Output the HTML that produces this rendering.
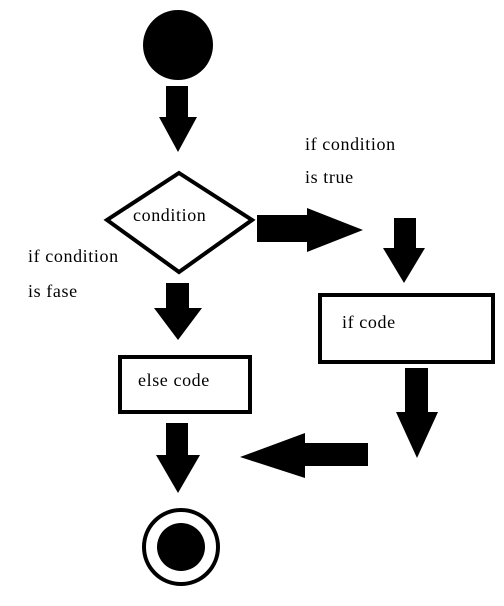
<!DOCTYPE html>
<html><head><style>html,body{margin:0;padding:0;background:#fff}svg{display:block}text{font-family:"Liberation Serif",serif;font-size:18px;letter-spacing:0.6px;fill:#000}</style></head>
<body>
<svg width="504" height="606" viewBox="0 0 504 606" xmlns="http://www.w3.org/2000/svg">
<circle cx="178" cy="45" r="35" fill="#000"/>
<polygon points="166,86 188,86 188,117 197,117 178,152 159,117 166,117" fill="#000"/>
<polygon points="179,173 252,220 179,272 107,220" fill="#fff" stroke="#000" stroke-width="4"/>
<text x="133" y="221">condition</text>
<polygon points="257,215 307,215 307,208 363,230 307,252 307,242 257,242" fill="#000"/>
<text x="305" y="150">if condition</text>
<text x="305" y="183">is true</text>
<text x="28" y="262">if condition</text>
<text x="28" y="297">is fase</text>
<polygon points="394,218 416,218 416,248 425,248 404,283 383,248 394,248" fill="#000"/>
<rect x="320" y="295" width="173" height="67" fill="#fff" stroke="#000" stroke-width="4"/>
<text x="342" y="328">if code</text>
<polygon points="166,283 189,283 189,308 202,308 178,340 154,308 166,308" fill="#000"/>
<rect x="120" y="357" width="130" height="55" fill="#fff" stroke="#000" stroke-width="4"/>
<text x="138" y="386">else code</text>
<polygon points="166,423 188,423 188,455 200,455 178,493 156,455 166,455" fill="#000"/>
<polygon points="368,443 368,466 305,466 305,478 240,457 305,433 305,443" fill="#000"/>
<polygon points="405,368 428,368 428,412 438,412 417,458 396,412 405,412" fill="#000"/>
<circle cx="181" cy="547" r="37" fill="#fff" stroke="#000" stroke-width="4"/>
<circle cx="181" cy="547" r="24" fill="#000"/>
</svg>
</body></html>
